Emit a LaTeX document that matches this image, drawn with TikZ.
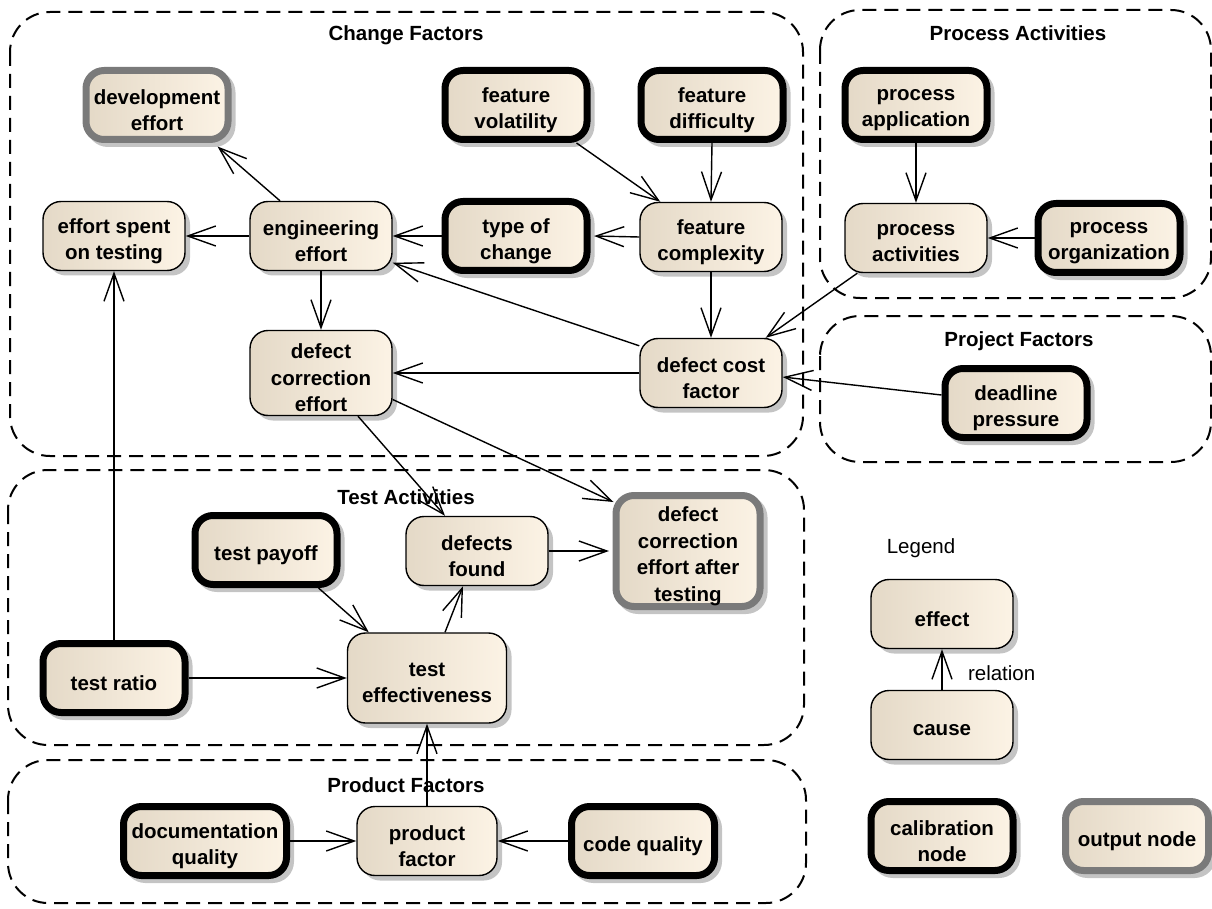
\documentclass[tikz,border=0pt]{standalone}
\usepackage{fontspec}
\setmainfont{Liberation Sans}
\usetikzlibrary{arrows.meta,shadows}

\definecolor{boxL}{HTML}{E4D9C7}
\definecolor{boxR}{HTML}{FCF3E5}
\definecolor{outgray}{HTML}{7A7A7A}
\definecolor{shadowgray}{HTML}{C4C4C4}
\newcommand\nodetext{\fontsize{20.5}{26.5}\selectfont\bfseries}
\newcommand\plaintext{\fontsize{20.5}{26.5}\selectfont}

\tikzset{
  basebox/.style={rectangle, rounded corners=18pt, left color=boxL, right color=boxR,
    inner sep=2pt, minimum width=142pt, minimum height=69pt},
  factor/.style={basebox, draw=black, line width=1.4pt,
    drop shadow={shadow xshift=5pt, shadow yshift=-5pt, fill=shadowgray, opacity=1}},
  calib/.style={basebox, draw=black, line width=7pt,
    drop shadow={shadow xshift=4pt, shadow yshift=-4pt, fill=shadowgray, draw=shadowgray, line width=7pt, opacity=1}},
  outnode/.style={basebox, draw=outgray, line width=7pt,
    drop shadow={shadow xshift=4pt, shadow yshift=-4pt, fill=shadowgray, draw=shadowgray, line width=7pt, opacity=1}},
  boxtext/.style={font=\nodetext, align=center, inner sep=0pt, text=black},
  says/.style={label={[boxtext, yshift=-5pt]center:#1}},
  rel/.style={draw=black, line width=1.4pt, -{Straight Barb[length=28pt,width=20pt,line width=1.4pt]}},
  group/.style={draw=black, line width=2pt, dash pattern=on 14pt off 8pt, rounded corners=40pt},
  grouptitle/.style={font=\nodetext, inner sep=0pt},
}

\begin{document}
\begin{tikzpicture}[x=1pt, y=-1pt]
\useasboundingbox (0,0) rectangle (1212,909);

% groups
\draw[group] (10,12) rectangle (803,456);
\node[grouptitle] (gchange) at (406,35) {Change Factors};
\draw[group] (820,10) rectangle (1211,298);
\node[grouptitle] (gprocess) at (1018,33) {Process Activities};
\draw[group] (820,316) rectangle (1211,462);
\node[grouptitle] (gproject) at (1019,341) {Project Factors};
\draw[group] (8,470) rectangle (804,745);
\node[grouptitle] (gtest) at (406,497) {Test Activities};
\draw[group] (8,760) rectangle (806,903);
\node[grouptitle] (gproduct) at (406,785) {Product Factors};

% change factors
\node[outnode, says={development\\effort}] (dev) at (157,105) {};
\node[factor, says={effort spent\\on testing}] (eff) at (114,236) {};
\node[factor, says={engineering\\effort}] (eng) at (321,236) {};
\node[calib, says={type of\\change}] (toc) at (516,236) {};
\node[factor, says={feature\\complexity}] (fc) at (711,237) {};
\node[calib, says={feature\\volatility}] (fv) at (516,105) {};
\node[calib, says={feature\\difficulty}] (fd) at (712,105) {};
\node[factor, says={defect cost\\factor}] (dcf) at (711,373) {};
\node[factor, minimum height=85pt, says={defect\\correction\\effort}] (dce) at (321,373) {};

% process activities and project factors
\node[calib, says={process\\application}] (pap) at (916,105) {};
\node[factor, says={process\\activities}] (pac) at (916,238) {};
\node[calib, says={process\\organization}] (por) at (1109,238) {};
\node[calib, says={deadline\\pressure}] (dp) at (1016,403) {};

% test activities
\node[factor, says={defects\\found}] (df) at (477,551) {};
\node[outnode, minimum width=144pt, minimum height=111pt, says={defect\\correction\\effort after\\testing}] (dcat) at (688,551) {};
\node[factor, minimum width=159pt, minimum height=90pt, says={test\\effectiveness}] (te) at (427,678) {};
\node[calib, says={test payoff}] (tp) at (266,550) {};
\node[calib, says={test ratio}] (tr) at (114,678) {};

% product factors
\node[calib, minimum width=163pt, says={documentation\\quality}] (docq) at (205,841) {};
\node[factor, minimum width=140pt, says={product\\factor}] (pf) at (427,841) {};
\node[calib, minimum width=143pt, says={code quality}] (cq) at (643,841) {};

% legend
\node[font=\plaintext] (legend) at (921,548) {Legend};
\node[factor, says={effect}] (effect) at (942,614) {};
\node[factor, says={cause}] (cause) at (942,725) {};
\node[calib, says={calibration\\node}] (calibnode) at (942,836) {};
\node[outnode, minimum width=143pt, says={output node}] (outputnode) at (1137,836) {};

% relations
\draw[rel] ([xshift=-41pt]eng.north) -- ([xshift=-14pt,yshift=-3.5pt]dev.south east);
\draw[rel] (eng.west) -- (eff.east);
\draw[rel] (toc.west) -- (eng.east);
\draw[rel] (fc.west) -- ([xshift=3.5pt]toc.east);
\draw[rel] ([xshift=-14pt]fv.south east) -- ([xshift=21pt]fc.north west);
\draw[rel] (fd.south) -- (fc.north);
\draw[rel] (fc.south) -- (dcf.north);
\draw[rel] ([yshift=-8pt]dcf.north west) -- ([yshift=8.5pt]eng.south east);
\draw[rel] (dcf.west) -- (dce.east);
\draw[rel] (eng.south) -- (dce.north);
\draw[rel] (pap.south) -- (pac.north);
\draw[rel] (por.west) -- (pac.east);
\draw[rel] ([xshift=13pt]pac.south west) -- ([xshift=-17pt]dcf.north east);
\draw[rel] ([yshift=8pt]dp.west) -- ([yshift=-4pt]dcf.east);
\draw[rel] ([xshift=37pt]dce.south) -- ([xshift=-32pt]df.north);
\draw[rel] ([yshift=-26.5pt]dce.east) -- ([xshift=1pt,yshift=-10pt]dcat.north west);
\draw[rel] (df.east) -- ([xshift=-3.5pt]dcat.west);
\draw[rel] ([xshift=18pt]te.north) -- ([xshift=-14pt]df.south);
\draw[rel] ([xshift=-22pt]tp.south east) -- ([xshift=22pt]te.north west);
\draw[rel] (tr.east) -- (te.west);
\draw[rel] (tr.north) -- (eff.south);
\draw[rel] (pf.north) -- (te.south);
\draw[rel] (docq.east) -- (pf.west);
\draw[rel] (cq.west) -- (pf.east);
\draw[rel] (cause.north) -- (effect.south)
  node[midway, anchor=west, xshift=22pt, yshift=-4pt, font=\plaintext] (relation) {relation};
\end{tikzpicture}
\end{document}
